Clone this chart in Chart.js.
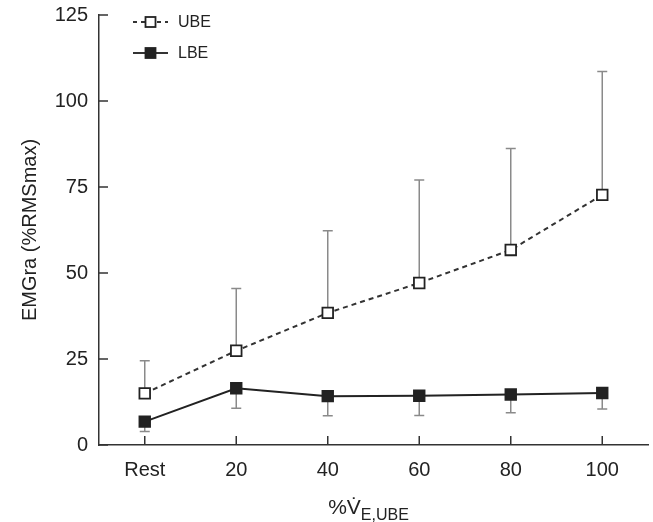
<!DOCTYPE html>
<html>
<head>
<meta charset="utf-8">
<script src="https://cdn.jsdelivr.net/npm/chart.js@4.4.1/dist/chart.umd.min.js"></script>
<style>
html,body{margin:0;padding:0;background:#fff;overflow:hidden;}
#wrap{width:653px;height:522px;}
canvas{display:block;}
</style>
</head>
<body>
<div id="wrap"><canvas id="c" width="653" height="522"></canvas></div>
<script>
const categories = ["Rest", "20", "40", "60", "80", "100"];
const ubeMean = [15.0, 27.4, 38.4, 47.1, 56.7, 72.7];
const ubeUpper = [24.5, 45.5, 62.3, 77.0, 86.2, 108.6];
const lbeMean = [6.8, 16.5, 14.2, 14.3, 14.7, 15.1];
const lbeLower = [3.9, 10.7, 8.5, 8.6, 9.4, 10.5];
const yTicks = [0, 25, 50, 75, 100, 125];

const AX = '#333';
const FONT = "'Liberation Sans', Arial, sans-serif";

const errorBars = {
  id: 'errorBars',
  beforeDatasetsDraw(chart) {
    const ctx = chart.ctx, x = chart.scales.x, y = chart.scales.y;
    ctx.save();
    ctx.strokeStyle = '#8a8a8a';
    ctx.lineWidth = 1.5;
    const draw = (i, v0, v1) => {
      const px = x.getPixelForValue(i);
      const p0 = y.getPixelForValue(v0), p1 = y.getPixelForValue(v1);
      ctx.beginPath();
      ctx.moveTo(px, p0); ctx.lineTo(px, p1);
      ctx.moveTo(px - 5, p1); ctx.lineTo(px + 5, p1);
      ctx.stroke();
    };
    categories.forEach((c, i) => {
      draw(i, ubeMean[i], ubeUpper[i]);
      draw(i, lbeMean[i], lbeLower[i]);
    });
    ctx.restore();
  }
};

const axesExtras = {
  id: 'axesExtras',
  afterDraw(chart) {
    const ctx = chart.ctx, x = chart.scales.x, y = chart.scales.y;
    const a = chart.chartArea;
    ctx.save();
    ctx.strokeStyle = AX;
    ctx.lineWidth = 1.5;
    ctx.beginPath();
    yTicks.forEach(v => {
      const py = y.getPixelForValue(v);
      ctx.moveTo(a.left, py); ctx.lineTo(a.left + 9, py);
    });
    categories.forEach((c, i) => {
      const px = x.getPixelForValue(i);
      ctx.moveTo(px, a.bottom); ctx.lineTo(px, a.bottom - 9);
    });
    ctx.stroke();

    // x axis title with subscript
    ctx.fillStyle = '#222';
    ctx.textBaseline = 'alphabetic';
    ctx.textAlign = 'left';
    const main = '%V\u0307';
    const sub = 'E,UBE';
    ctx.font = '21px ' + FONT;
    const w1 = ctx.measureText(main).width;
    ctx.font = '16px ' + FONT;
    const w2 = ctx.measureText(sub).width;
    const cx = (a.left + a.right) / 2 - 5;
    const x0 = cx - (w1 + w2) / 2;
    ctx.font = '21px ' + FONT;
    ctx.fillText(main, x0, 514);
    ctx.font = '16px ' + FONT;
    ctx.fillText(sub, x0 + w1, 520);

    // legend
    const items = [
      {label: 'UBE', y: 22, dash: [4, 4], fill: '#fff'},
      {label: 'LBE', y: 53, dash: [], fill: '#222'}
    ];
    items.forEach(it => {
      ctx.strokeStyle = '#333';
      ctx.lineWidth = 1.8;
      ctx.setLineDash(it.dash);
      ctx.beginPath();
      ctx.moveTo(133, it.y); ctx.lineTo(168, it.y);
      ctx.stroke();
      ctx.setLineDash([]);
      ctx.fillStyle = it.fill;
      ctx.fillRect(145.5, it.y - 5, 10, 10);
      ctx.strokeStyle = '#222';
      ctx.strokeRect(145.5, it.y - 5, 10, 10);
      ctx.fillStyle = '#222';
      ctx.font = '16px ' + FONT;
      ctx.textBaseline = 'middle';
      ctx.fillText(it.label, 178, it.y + 1);
    });
    ctx.restore();
  }
};

new Chart(document.getElementById('c'), {
  type: 'line',
  data: {
    labels: categories,
    datasets: [
      {
        label: 'UBE',
        data: ubeMean,
        borderColor: '#333',
        borderWidth: 2,
        borderDash: [5, 4],
        pointStyle: 'rect',
        pointRadius: 7.5,
        pointBackgroundColor: '#fff',
        pointBorderColor: '#222',
        pointBorderWidth: 1.8,
        tension: 0
      },
      {
        label: 'LBE',
        data: lbeMean,
        borderColor: '#222',
        borderWidth: 2,
        pointStyle: 'rect',
        pointRadius: 7.5,
        pointBackgroundColor: '#222',
        pointBorderColor: '#222',
        pointBorderWidth: 1.8,
        tension: 0
      }
    ]
  },
  options: {
    responsive: false,
    animation: false,
    devicePixelRatio: 1,
    layout: {autoPadding: false, padding: {top: 15, right: 5, left: 0, bottom: 0}},
    plugins: {legend: {display: false}, tooltip: {enabled: false}},
    scales: {
      x: {
        type: 'category',
        offset: true,
        grid: {display: false, drawTicks: false},
        border: {display: true, color: AX, width: 1.5},
        ticks: {color: '#222', font: {family: FONT, size: 20}, padding: 13, maxRotation: 0},
        afterFit(s) { s.height = 77; s.paddingLeft = 0; s.paddingRight = 0; }
      },
      y: {
        min: 0, max: 125,
        grid: {display: false, drawTicks: false},
        border: {display: true, color: AX, width: 1.5},
        ticks: {stepSize: 25, color: '#222', font: {family: FONT, size: 20}, padding: 11},
        title: {display: true, text: 'EMGra (%RMSmax)', color: '#222', font: {family: FONT, size: 20}, padding: {top: 18, bottom: 10}},
        afterFit(s) { s.width = 99; s.paddingTop = 0; s.paddingBottom = 0; s.paddingLeft = 0; s.paddingRight = 0; }
      }
    }
  },
  plugins: [errorBars, axesExtras]
});
</script>
</body>
</html>
